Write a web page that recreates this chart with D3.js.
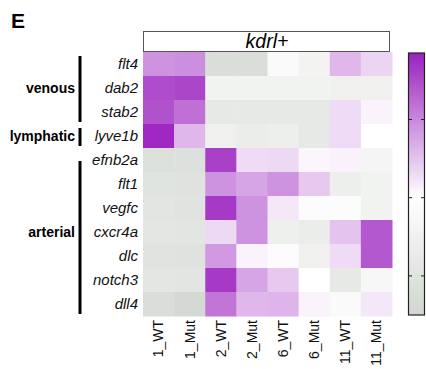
<!DOCTYPE html>
<html>
<head>
<meta charset="utf-8">
<script src="https://cdn.jsdelivr.net/npm/d3@7"></script>
<style>
  body { margin: 0; background: #fff; }
  text { font-family: "Liberation Sans", Arial, sans-serif; }
</style>
</head>
<body>
<div id="chart"></div>
<script>
// samples and genes
var samples = ["1_WT", "1_Mut", "2_WT", "2_Mut", "6_WT", "6_Mut", "11_WT", "11_Mut"];
var genes = ["flt4", "dab2", "stab2", "lyve1b", "efnb2a", "flt1", "vegfc", "cxcr4a", "dlc", "notch3", "dll4"];

// row z-scores
var values = [
  [0.9, 0.95, -1.2, -1.2, -0.2, -0.4, 0.6, 0.35],
  [1.5, 1.55, -0.45, -0.45, -0.45, -0.45, -0.5, -0.5],
  [1.45, 1.2, -0.8, -0.8, -0.8, -0.8, 0.3, 0.1],
  [1.8, 0.6, -0.5, -0.65, -0.6, -0.8, 0.3, 0.0],
  [-1.15, -1.1, 1.6, 0.3, 0.32, 0.08, 0.12, -0.35],
  [-1.0, -1.05, 0.9, 0.75, 0.9, 0.45, -0.6, -0.45],
  [-0.95, -1.0, 1.65, 0.9, 0.2, -0.1, -0.1, -0.45],
  [-0.9, -0.95, 0.32, 0.9, -0.55, -0.65, 0.5, 1.4],
  [-1.0, -1.05, 0.85, 0.1, 0.03, -0.5, 0.3, 1.4],
  [-0.9, -0.95, 1.65, 0.75, 0.45, 0.0, -0.8, -0.3],
  [-1.2, -1.4, 1.15, 0.6, 0.62, 0.1, -0.2, 0.2]
];

// gene groups (first and last gene)
var groups = [
  { name: "venous", from: "flt4", to: "stab2" },
  { name: "lymphatic", from: "lyve1b", to: "lyve1b" },
  { name: "arterial", from: "efnb2a", to: "dll4" }
];

var colorTicks = [-1, 0, 1];

var width = 426, height = 369;
var svg = d3.select("#chart").append("svg")
  .attr("width", width)
  .attr("height", height);

var x = d3.scaleBand().domain(samples).range([143, 392]);
var y = d3.scaleBand().domain(genes).range([52, 316]);

var color = d3.scaleLinear()
  .domain([-1.5, 0, 1.85])
  .range(["#d1d6d0", "#ffffff", "#9b22bf"])
  .clamp(true);

// panel letter
svg.append("text")
  .attr("x", 11)
  .attr("y", 28)
  .style("font-size", "21px")
  .style("font-weight", "bold")
  .text("E");

// title box
svg.append("rect")
  .attr("x", 143.5)
  .attr("y", 31.5)
  .attr("width", 246)
  .attr("height", 20)
  .attr("fill", "#fff")
  .attr("stroke", "#555");

svg.append("text")
  .attr("x", 267)
  .attr("y", 48)
  .attr("text-anchor", "middle")
  .style("font-size", "19.5px")
  .style("font-style", "italic")
  .text("kdrl+");

// cells
var cells = [];
values.forEach(function(row, i) {
  row.forEach(function(v, j) {
    cells.push({ gene: genes[i], sample: samples[j], value: v });
  });
});

svg.append("g").selectAll("rect")
  .data(cells)
  .enter().append("rect")
  .attr("x", function(d) { return x(d.sample); })
  .attr("y", function(d) { return y(d.gene); })
  .attr("width", x.bandwidth() + 0.5)
  .attr("height", y.bandwidth() + 0.5)
  .attr("fill", function(d) { return color(d.value); });

// gene labels
var yAxis = svg.append("g")
  .attr("transform", "translate(143,0)")
  .call(d3.axisLeft(y).tickSize(0).tickPadding(5));
yAxis.select(".domain").remove();
yAxis.selectAll("text")
  .style("font-size", "15px")
  .style("font-style", "italic")
  .attr("fill", "#111");

// sample labels
var xAxis = svg.append("g")
  .attr("transform", "translate(0,316)")
  .call(d3.axisBottom(x).tickSize(0).tickPadding(0));
xAxis.select(".domain").remove();
xAxis.selectAll("text")
  .style("font-size", "14px")
  .attr("fill", "#111")
  .attr("text-anchor", "end")
  .attr("transform", "translate(0,4) rotate(-90)")
  .attr("dx", 0)
  .attr("dy", "0.35em")
  .attr("x", 0)
  .attr("y", 0);

// group bars and labels
groups.forEach(function(g) {
  var y0 = y(g.from), y1 = y(g.to) + y.bandwidth();
  var inset = g.name == "arterial" ? 13 : 4;
  svg.append("line")
    .attr("x1", 80).attr("x2", 80)
    .attr("y1", y0 + inset)
    .attr("y2", y1 - 2)
    .attr("stroke", "#000")
    .attr("stroke-width", 3);
  svg.append("text")
    .attr("x", 75)
    .attr("y", (y0 + y1) / 2 + 5)
    .attr("text-anchor", "end")
    .style("font-size", "14px")
    .style("font-weight", "bold")
    .text(g.name);
});

// colour bar
var defs = svg.append("defs");
var grad = defs.append("linearGradient")
  .attr("id", "cbar")
  .attr("x1", 0).attr("x2", 0)
  .attr("y1", 1).attr("y2", 0);
var cDomain = color.domain();
d3.range(0, 1.0001, 0.05).forEach(function(t) {
  var v = cDomain[0] + t * (cDomain[2] - cDomain[0]);
  grad.append("stop")
    .attr("offset", t)
    .attr("stop-color", color(v));
});

var cy = d3.scaleLinear().domain([cDomain[0], cDomain[2]]).range([315, 53]);

svg.append("rect")
  .attr("x", 408.5)
  .attr("y", 53)
  .attr("width", 16)
  .attr("height", 262)
  .attr("fill", "url(#cbar)")
  .attr("stroke", "#222")
  .attr("stroke-width", 1.2);

colorTicks.forEach(function(t) {
  svg.append("line")
    .attr("x1", 408.5).attr("x2", 412)
    .attr("y1", cy(t)).attr("y2", cy(t))
    .attr("stroke", "#222");
  svg.append("line")
    .attr("x1", 421).attr("x2", 424.5)
    .attr("y1", cy(t)).attr("y2", cy(t))
    .attr("stroke", "#222");
});
</script>
</body>
</html>
